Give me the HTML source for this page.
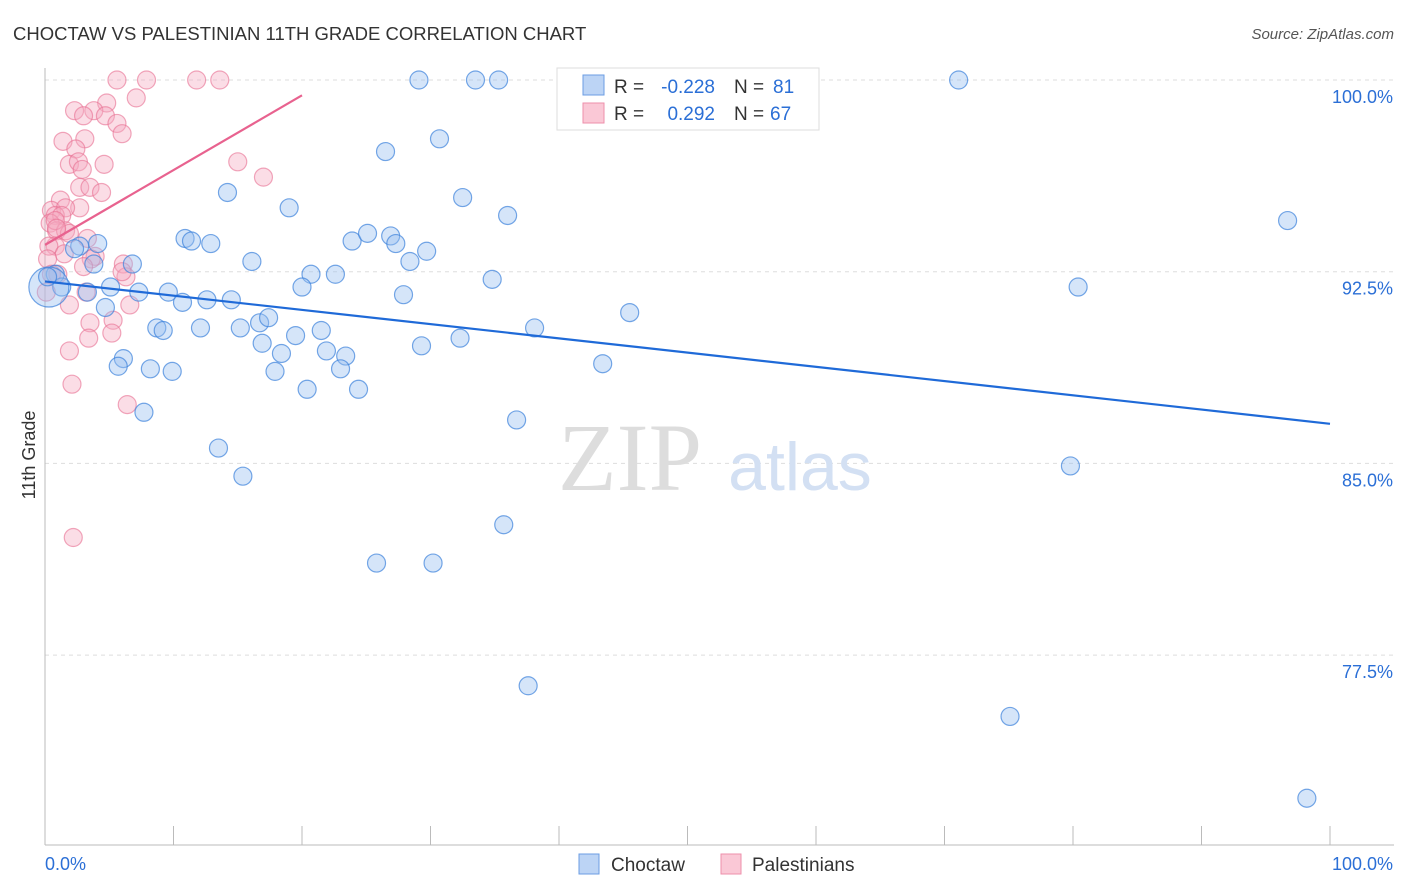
<!DOCTYPE html>
<html><head><meta charset="utf-8"><style>
body{margin:0;background:#fff;font-family:"Liberation Sans",sans-serif;}
svg{display:block}
</style></head><body>
<svg id="chart" width="1406" height="892">
<text x="13" y="40" font-size="18.5" fill="#333">CHOCTAW VS PALESTINIAN 11TH GRADE CORRELATION CHART</text>
<text x="1394" y="39" font-size="15" fill="#555" text-anchor="end" font-style="italic">Source: ZipAtlas.com</text>
<g id="grid"></g>
<text x="630" y="490" font-size="96" fill="#ddd" font-family="Liberation Serif,serif" text-anchor="middle">ZIP</text>
<text x="800" y="490" font-size="68" fill="#d3e0f3" text-anchor="middle">atlas</text>
<g id="pts"></g>
<g id="lines"></g>
<text x="35" y="455" font-size="18" fill="#333" text-anchor="middle" transform="rotate(-90 35 455)">11th Grade</text>
<g>
<rect x="557" y="68" width="262" height="62" fill="#fff" stroke="#ddd"/>
<rect x="583" y="75" width="21" height="20" fill="#bcd4f5" stroke="#6b9de3"/>
<rect x="583" y="103" width="21" height="20" fill="#fac8d6" stroke="#ee8fab"/>
<text x="614" y="93" font-size="19" fill="#333">R =</text>
<text x="715" y="93" font-size="19" fill="#2b6fd6" text-anchor="end">-0.228</text>
<text x="734" y="93" font-size="19" fill="#333">N =</text>
<text x="773" y="93" font-size="19" fill="#2b6fd6">81</text>
<text x="614" y="120" font-size="19" fill="#333">R =</text>
<text x="715" y="120" font-size="19" fill="#2b6fd6" text-anchor="end">0.292</text>
<text x="734" y="120" font-size="19" fill="#333">N =</text>
<text x="770" y="120" font-size="19" fill="#2b6fd6">67</text>
</g>
<g>
<rect x="579" y="854" width="20" height="20" fill="#bcd4f5" stroke="#6b9de3"/>
<text x="611" y="871" font-size="19" fill="#333">Choctaw</text>
<rect x="721" y="854" width="20" height="20" fill="#fac8d6" stroke="#ee8fab"/>
<text x="752" y="871" font-size="19" fill="#333">Palestinians</text>
</g>
</svg>
<script>
const yTicks=[100,92.5,85,77.5];
const xTickLabels=["0.0%","100.0%"];
const blueX=[29.1,33.5,35.3,51.1,71.1,30.7,26.5,14.2,32.5,19.0,36.0,96.7,10.9,11.4,12.9,23.9,25.1,26.9,27.3,29.7,4.1,2.7,2.3,16.1,6.8,3.8,28.4,20.7,22.6,34.8,0.8,1.3,3.3,5.1,7.3,9.6,10.7,12.6,14.5,20.0,27.9,80.4,45.5,4.7,8.7,9.2,12.1,15.2,16.7,17.4,19.5,21.5,32.3,38.1,16.9,18.4,21.9,23.4,29.3,6.1,5.7,8.2,9.9,17.9,23.0,43.4,20.4,24.4,7.7,36.7,13.5,15.4,79.8,35.7,25.8,30.2,37.6,75.1,98.2,0.3,0.2];
const blueY=[100,100,100,100,100,97.7,97.2,95.6,95.4,95.0,94.7,94.5,93.8,93.7,93.6,93.7,94.0,93.9,93.6,93.3,93.6,93.5,93.4,92.9,92.8,92.8,92.9,92.4,92.4,92.2,92.4,91.9,91.7,91.9,91.7,91.7,91.3,91.4,91.4,91.9,91.6,91.9,90.9,91.1,90.3,90.2,90.3,90.3,90.5,90.7,90.0,90.2,89.9,90.3,89.7,89.3,89.4,89.2,89.6,89.1,88.8,88.7,88.6,88.6,88.7,88.9,87.9,87.9,87.0,86.7,85.6,84.5,84.9,82.6,81.1,81.1,76.3,75.1,71.9,91.9,92.3];
const pinkX=[5.6,7.9,11.8,13.6,2.3,7.1,4.8,3.8,3.0,4.7,5.6,6.0,3.1,1.4,2.4,1.9,2.6,2.9,4.6,15.0,17.0,2.7,3.5,4.4,1.2,0.5,2.7,1.6,0.8,1.3,0.4,0.9,1.6,1.9,3.3,0.8,0.3,3.9,3.6,1.5,3.0,6.1,6.3,6.0,0.2,1.0,0.5,3.2,1.9,6.6,3.5,5.3,3.4,5.2,1.9,2.1,6.4,2.2,0.1,0.8,0.9];
const pinkY=[100,100,100,100,98.8,99.3,99.1,98.8,98.6,98.6,98.3,97.9,97.7,97.6,97.3,96.7,96.8,96.5,96.7,96.8,96.2,95.8,95.8,95.6,95.3,94.9,95.0,95.0,94.7,94.7,94.4,94.1,94.1,94.0,93.8,93.5,93.5,93.1,93.0,93.2,92.7,92.8,92.3,92.5,93.0,92.4,92.4,91.7,91.2,91.2,90.5,90.6,89.9,90.1,89.4,88.1,87.3,82.1,91.7,94.5,94.2];
const blueTrend=[0,92.12,100,86.55];
const pinkTrend=[0,93.55,20,99.4];
const X0=45,X1=1330,Y0=80,PPU=25.56;
const xs=v=>X0+(X1-X0)*v/100, ys=v=>Y0+(100-v)*PPU;
const NS="http://www.w3.org/2000/svg";
function mk(tag,attrs,parent){const e=document.createElementNS(NS,tag);for(const k in attrs)e.setAttribute(k,attrs[k]);document.getElementById(parent).appendChild(e);return e;}
yTicks.forEach(t=>{
 const l=mk('line',{x1:45,x2:1394,y1:ys(t),y2:ys(t),stroke:'#ddd','stroke-dasharray':'4,4'},'grid');
 
 
 const tx=mk('text',{x:1393,y:ys(t)+23,'font-size':18,fill:'#2b6fd6','text-anchor':'end'},'grid');
 tx.textContent=t.toFixed(1)+'%';
 
 
});
let a=mk('line',{x1:45,x2:45,y1:68,y2:845,stroke:'#bbb'},'grid');


a=mk('line',{x1:45,x2:1394,y1:845,y2:845,stroke:'#bbb'},'grid');


for(let i=0;i<=10;i++){const t=mk('line',{x1:xs(i*10),x2:xs(i*10),y1:826,y2:845,stroke:'#bbb'},'grid');
 
 }
[[0,'start',45],[1,'end',1393]].forEach(([i,anc,x])=>{const t=mk('text',{x:x,y:870,'font-size':18,fill:'#2b6fd6','text-anchor':anc},'grid');t.textContent=xTickLabels[i];
 
 });
pinkX.forEach((v,i)=>{const c=mk('circle',{cx:xs(v),cy:ys(pinkY[i]),r:9,fill:'rgba(246,170,192,0.4)',stroke:'rgba(232,110,145,0.6)','stroke-width':1.2},'pts');
 
 });
blueX.forEach((v,i)=>{const c=mk('circle',{cx:xs(v),cy:ys(blueY[i]),r:i==blueX.length-2?20:9,fill:'rgba(150,190,240,0.4)',stroke:'rgba(60,130,220,0.7)','stroke-width':1.2},'pts');
 
 });
let l=mk('line',{x1:xs(blueTrend[0]),y1:ys(blueTrend[1]),x2:xs(blueTrend[2]),y2:ys(blueTrend[3]),stroke:'#1f6ad8','stroke-width':2.2},'lines');


l=mk('line',{x1:xs(pinkTrend[0]),y1:ys(pinkTrend[1]),x2:xs(pinkTrend[2]),y2:ys(pinkTrend[3]),stroke:'#e8628f','stroke-width':2.2},'lines');


</script>
</body></html>
